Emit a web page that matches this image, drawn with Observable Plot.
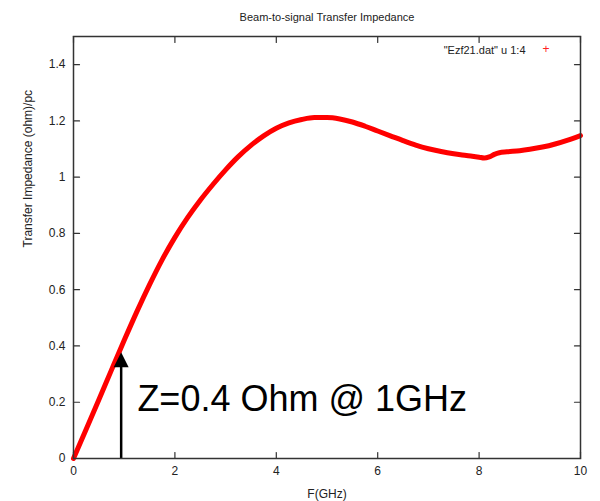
<!DOCTYPE html>
<html>
<head>
<meta charset="utf-8">
<script src="https://cdn.jsdelivr.net/npm/d3@7"></script>
<script src="https://cdn.jsdelivr.net/npm/@observablehq/plot@0.6"></script>
<style>
  html, body { margin: 0; padding: 0; background: #fff; }
</style>
</head>
<body>
<div id="chart"></div>
<script>
// ---- data ----
const freqGHz = [0, 0.25, 0.5, 0.75, 1.0, 1.25, 1.5, 1.75, 2.0, 2.25, 2.5, 2.75, 3.0, 3.25, 3.5, 3.75,
  4.0, 4.25, 4.5, 4.75, 5.0, 5.25, 5.5, 5.75, 6.0, 6.25, 6.5, 6.75, 7.0, 7.25, 7.5, 7.75,
  8.0, 8.1, 8.2, 8.3, 8.4, 8.55, 8.8, 9.0, 9.25, 9.5, 9.75, 10];
const impedance = [0, 0.104, 0.209, 0.315, 0.42, 0.522, 0.618, 0.707, 0.786, 0.856, 0.918, 0.974, 1.026, 1.073, 1.113, 1.147,
  1.174, 1.193, 1.205, 1.212, 1.212, 1.207, 1.196, 1.181, 1.164, 1.147, 1.130, 1.114, 1.101, 1.091, 1.083, 1.077,
  1.071, 1.068, 1.072, 1.081, 1.087, 1.090, 1.094, 1.099, 1.107, 1.118, 1.132, 1.148];

const xTicks = [0, 2, 4, 6, 8, 10];
const yTicks = [0, 0.2, 0.4, 0.6, 0.8, 1, 1.2, 1.4];
const xDomain = [0, 10];
const yDomain = [0, 1.5];

const titleText = ["Beam-to-signal Transfer Impedance"];
const xLabelText = ["F(GHz)"];
const yLabelText = ["Transfer Impedance (ohm)/pc"];
const legendText = ["\"Ezf21.dat\" u 1:4"];
const legendMarker = ["+"];

const arrowX = [0.94];
const arrowBase = [0];
const arrowTip = [0.378];
const noteX = [1.26];
const noteY = [0.17];
const noteText = ["Z=0.4 Ohm @ 1GHz"];

// ---- build tables ----
const series = freqGHz.map((f, i) => ({f, z: impedance[i]}));
const arrows = arrowX.map((x, i) => ({x, y1: arrowBase[i], y2: arrowTip[i]}));
const notes = noteX.map((x, i) => ({x, y: noteY[i], text: noteText[i]}));

const font = "'Liberation Sans', Arial, Helvetica, sans-serif";
const lineShape = {draw(ctx, l) { ctx.moveTo(0, 0); ctx.lineTo(0, -l); }};
const headShape = {draw(ctx, size) {
  const r = Math.sqrt(size / Math.PI);
  ctx.moveTo(0, 0); ctx.lineTo(r, 2 * r); ctx.lineTo(-r, 2 * r); ctx.closePath();
}};
const axisColor = "#333";

const chart = Plot.plot({
  width: 600,
  height: 501,
  marginLeft: 73,
  marginRight: 20,
  marginTop: 36,
  marginBottom: 43,
  style: {fontFamily: font, fontSize: "12px", color: "#222", background: "#fff"},
  x: {domain: xDomain},
  y: {domain: yDomain},
  marks: [
    // tick labels
    Plot.axisX(xTicks, {tickSize: 0, tickPadding: 8, label: null, tickFormat: d3.format("~g")}),
    Plot.axisY(yTicks, {tickSize: 0, tickPadding: 8, label: null, tickFormat: d3.format("~g")}),
    // inward mirrored ticks
    Plot.vector(xTicks, {x: d => d, frameAnchor: "bottom", length: 6, anchor: "start", rotate: 0, shape: lineShape, stroke: axisColor, strokeWidth: 1.2}),
    Plot.vector(xTicks, {x: d => d, frameAnchor: "top", length: 6, anchor: "start", rotate: 180, shape: lineShape, stroke: axisColor, strokeWidth: 1.2}),
    Plot.vector(yTicks, {y: d => d, frameAnchor: "left", length: 6, anchor: "start", rotate: 90, shape: lineShape, stroke: axisColor, strokeWidth: 1.2}),
    Plot.vector(yTicks, {y: d => d, frameAnchor: "right", length: 6, anchor: "start", rotate: -90, shape: lineShape, stroke: axisColor, strokeWidth: 1.2}),
    // axis titles and chart title
    Plot.text(titleText, {text: d => d, frameAnchor: "top", dy: -19, lineAnchor: "middle", fontSize: 11, fill: "#222"}),
    Plot.text(xLabelText, {text: d => d, frameAnchor: "bottom", dy: 39, lineAnchor: "bottom", fontSize: 12, fill: "#222"}),
    Plot.text(yLabelText, {text: d => d, frameAnchor: "left", dx: -45, rotate: -90, lineAnchor: "middle", fontSize: 12, fill: "#222"}),
    // legend
    Plot.text(legendText, {text: d => d, frameAnchor: "top-right", dx: -55, dy: 17, textAnchor: "end", lineAnchor: "bottom", fontSize: 11, fill: "#222"}),
    Plot.text(legendMarker, {text: d => d, frameAnchor: "top-right", dx: -31, dy: 13, lineAnchor: "middle", fontSize: 12, fill: "#ff2020"}),
    // the data curve
    Plot.line(series, {x: "f", y: "z", stroke: "red", strokeWidth: 5, curve: "monotone-x"}),
    // annotation arrow
    Plot.ruleX(arrows, {x: "x", y1: "y1", y2: d => d.y2 - 0.045, stroke: "black", strokeWidth: 2.5}),
    Plot.dot(arrows, {x: "x", y: "y2", symbol: headShape, r: 7.5, fill: "black", stroke: "none"}),
    Plot.text(notes, {x: "x", y: "y", text: "text", textAnchor: "start", lineAnchor: "bottom", fontSize: 36, fill: "black"}),
    // frame
    Plot.frame({stroke: axisColor, strokeWidth: 1.5})
  ]
});
document.getElementById("chart").appendChild(chart);
</script>
</body>
</html>
